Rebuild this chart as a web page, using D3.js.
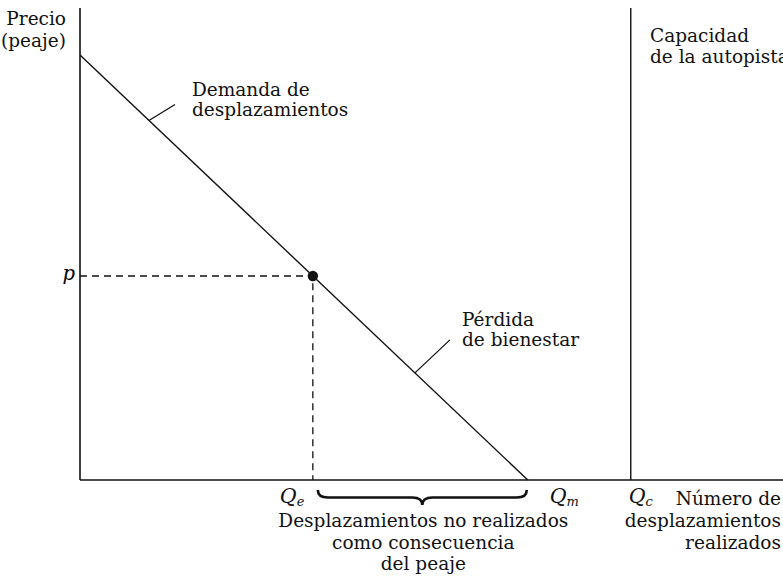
<!DOCTYPE html>
<html>
<head>
<meta charset="utf-8">
<script src="https://cdn.jsdelivr.net/npm/d3@7"></script>
<style>
  body { margin: 0; background: #fff; }
</style>
</head>
<body>
<div id="chart"></div>
<script>
// data (quantity units: Qm = 100, price units: intercept = 100)
const demandQ = [0, 100];
const demandP = [100, 0];
const tollPoint = [52, 48];          // Qe, p
const capacityQ = 123;
const qNames = ['e', 'm', 'c'];
const qValues = [52, 100, 123];
const yAxisTitle = ['Precio', '(peaje)'];
const xAxisTitle = ['Número de', 'desplazamientos', 'realizados'];
const capacityLabel = ['Capacidad', 'de la autopista'];
const demandLabel = ['Demanda de', 'desplazamientos'];
const lossLabel = ['Pérdida', 'de bienestar'];
const braceLabel = ['Desplazamientos no realizados', 'como consecuencia', 'del peaje'];
const demandLeaderQ = 15.4;
const lossLeaderQ = 74.8;

const W = 783, H = 580;
const svg = d3.select('#chart').append('svg')
  .attr('width', W).attr('height', H)
  .attr('font-family', '"DejaVu Serif", "Liberation Serif", serif');

const x = d3.scaleLinear().domain([0, 157]).range([80, 783]);
const y = d3.scaleLinear().domain([0, 100]).range([480, 55]);
const yTop = 8;

const ink = '#111';
const fs = 18.5;

// axes
svg.append('line')
  .attr('x1', x(0)).attr('x2', x(0))
  .attr('y1', yTop).attr('y2', y(0))
  .attr('stroke', ink).attr('stroke-width', 1.6);
svg.append('line')
  .attr('x1', x(0)).attr('x2', W)
  .attr('y1', y(0)).attr('y2', y(0))
  .attr('stroke', ink).attr('stroke-width', 1.6);

// capacity line
svg.append('line')
  .attr('x1', x(capacityQ)).attr('x2', x(capacityQ))
  .attr('y1', yTop).attr('y2', y(0))
  .attr('stroke', ink).attr('stroke-width', 1.4);

// demand
const demand = d3.line().x(d => x(d[0])).y(d => y(d[1]));
svg.append('path')
  .attr('d', demand(d3.zip(demandQ, demandP)))
  .attr('fill', 'none').attr('stroke', ink).attr('stroke-width', 1.4);

// dashed guides to the toll point
svg.append('path')
  .attr('d', demand([[0, tollPoint[1]], tollPoint, [tollPoint[0], 0]]))
  .attr('fill', 'none').attr('stroke', ink).attr('stroke-width', 1.3)
  .attr('stroke-dasharray', '7,5');

svg.append('circle')
  .attr('cx', x(tollPoint[0])).attr('cy', y(tollPoint[1]))
  .attr('r', 5.2).attr('fill', ink);

// p label
svg.append('text')
  .attr('x', x(0) - 5).attr('y', y(tollPoint[1]) + 4)
  .attr('text-anchor', 'end')
  .attr('font-size', fs + 1).attr('font-style', 'italic')
  .text('p');

// demand price function
const priceAt = q => d3.scaleLinear().domain(demandQ).range(demandP)(q);

// leader lines
function leader(q, dx, dy) {
  const px = x(q), py = y(priceAt(q));
  svg.append('line')
    .attr('x1', px).attr('y1', py)
    .attr('x2', px + dx).attr('y2', py + dy)
    .attr('stroke', ink).attr('stroke-width', 1.3);
}
leader(demandLeaderQ, 26, -16);
leader(lossLeaderQ, 35, -33);

// multi-line text helper
function block(lines, tx, ty, anchor, lh) {
  const t = svg.append('text')
    .attr('font-size', fs)
    .attr('fill', ink)
    .attr('text-anchor', anchor);
  lines.forEach((s, i) => {
    t.append('tspan').attr('x', tx).attr('y', ty + i * lh).text(s);
  });
}

block(yAxisTitle, 66, 25, 'end', 22);
block(capacityLabel, 650, 42, 'start', 21);
block(demandLabel, 192, 96, 'start', 20);
block(lossLabel, 462, 326, 'start', 20);
block(xAxisTitle, 781, 505, 'end', 22);
block(braceLabel, (x(tollPoint[0]) + x(demandQ[1])) / 2 + 3, 527, 'middle', 21.5);

// Q labels on the x axis
const qOffset = { e: -33, m: 22, c: -2 };
qNames.forEach((n, i) => {
  const t = svg.append('text')
    .attr('x', x(qValues[i]) + qOffset[n]).attr('y', 503)
    .attr('font-size', fs + 2).attr('font-style', 'italic').attr('fill', ink);
  t.append('tspan').text('Q');
  t.append('tspan').attr('font-size', 13).attr('dy', 3).text(n);
});

// brace under the lost trips
function bracePath(x1, x2, yb, h) {
  const m = (x1 + x2) / 2, r = 10;
  return `M${x1},${yb} Q${x1},${yb + h / 2} ${x1 + r},${yb + h / 2} L${m - r},${yb + h / 2} ` +
    `Q${m},${yb + h / 2} ${m},${yb + h} Q${m},${yb + h / 2} ${m + r},${yb + h / 2} ` +
    `L${x2 - r},${yb + h / 2} Q${x2},${yb + h / 2} ${x2},${yb}`;
}
svg.append('path')
  .attr('d', bracePath(x(tollPoint[0]) + 5, x(demandQ[1]) - 1, 490, 15))
  .attr('fill', 'none').attr('stroke', ink).attr('stroke-width', 2.6);
</script>
</body>
</html>
